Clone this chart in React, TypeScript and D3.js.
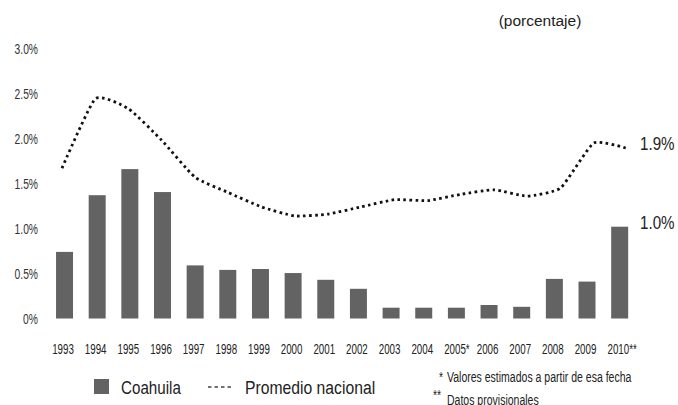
import React from "react";
import * as d3 from "d3";

const years = ["1993","1994","1995","1996","1997","1998","1999","2000","2001","2002","2003","2004","2005*","2006","2007","2008","2009","2010**"];
const coahuila = [0.74,1.37,1.66,1.405,0.59,0.54,0.55,0.505,0.43,0.33,0.12,0.12,0.12,0.15,0.13,0.44,0.41,1.02];
const promedio = [1.67,2.44,2.33,1.98,1.57,1.40,1.24,1.14,1.16,1.24,1.32,1.31,1.38,1.43,1.36,1.45,1.95,1.89];
const yTicks = [0,0.5,1.0,1.5,2.0,2.5,3.0];
const yTickLabels = ["0%","0.5%","1.0%","1.5%","2.0%","2.5%","3.0%"];

const FONT = "'Liberation Sans', Arial, sans-serif";

type TProps = { x: number; y: number; sx: number; size: number; anchor?: string; fill?: string; children: React.ReactNode; weight?: number };
function T({ x, y, sx, size, anchor = "start", fill = "#222", children, weight = 400 }: TProps) {
  return (
    <text transform={`translate(${x},${y}) scale(${sx},1)`} fontSize={size} textAnchor={anchor} fill={fill} fontWeight={weight}>
      {children}
    </text>
  );
}

export default function App() {
  const W = 678, H = 405;
  const x = d3.scaleBand<string>().domain(years).range([48.2, 636]).paddingInner(0.48).paddingOuter(0.24);
  const xl = d3.scalePoint<string>().domain(years).range([62, 627]);
  const y = d3.scaleLinear().domain([0, 3]).range([318.5, 48.5]);
  const cx = (i: number) => (x(years[i]) as number) + x.bandwidth() / 2;
  const line = d3.line<number>().x((_, i) => xl(years[i]) as number).y((d) => y(d)).curve(d3.curveCardinal.tension(0.5));
  return (
    <svg width={W} height={H} style={{ position: "absolute", left: 0, top: 0, background: "#fff" }} fontFamily={FONT}>
      <T x={540} y={26} sx={1.0} size={15.5} anchor="middle">(porcentaje)</T>
      {yTicks.map((t, i) => (
        <T key={t} x={38} y={y(t) + 5.2} sx={0.71} size={14.5} anchor="end" fill="#333">{yTickLabels[i]}</T>
      ))}
      {years.map((yr, i) => (
        <rect key={yr} x={x(yr)} y={y(coahuila[i])} width={x.bandwidth()} height={y(0) - y(coahuila[i])} fill="#636363" />
      ))}
      <path d={line(promedio) || ""} fill="none" stroke="#111" strokeWidth={2.8} strokeDasharray="2.6,3.4" strokeLinecap="butt" />
      {years.map((yr, i) => (
        <T key={yr} x={cx(i) - 1.5 + (yr.endsWith("**") ? 4 : yr.endsWith("*") ? 2 : 0)} y={353.5} sx={0.66} size={14.8} anchor="middle">{yr}</T>
      ))}
      <T x={640} y={150} sx={0.82} size={18.5} fill="#222">1.9%</T>
      <T x={640} y={229} sx={0.82} size={18.5} fill="#222">1.0%</T>
      <rect x={94} y={379} width={15} height={15} fill="#636363" />
      <T x={121} y={393.5} sx={0.82} size={18.5}>Coahuila</T>
      <line x1={208} x2={234} y1={387} y2={387} stroke="#444" strokeWidth={1.3} strokeDasharray="3.5,3" />
      <T x={245} y={393.5} sx={0.85} size={18.5}>Promedio nacional</T>
      <T x={443} y={382} sx={0.72} size={14.5} anchor="end">*</T>
      <T x={447} y={382} sx={0.725} size={14.5}>Valores estimados a partir de esa fecha</T>
      <T x={441} y={400} sx={0.72} size={14.5} anchor="end">**</T>
      <T x={447} y={405} sx={0.725} size={14.5}>Datos provisionales</T>
    </svg>
  );
}
